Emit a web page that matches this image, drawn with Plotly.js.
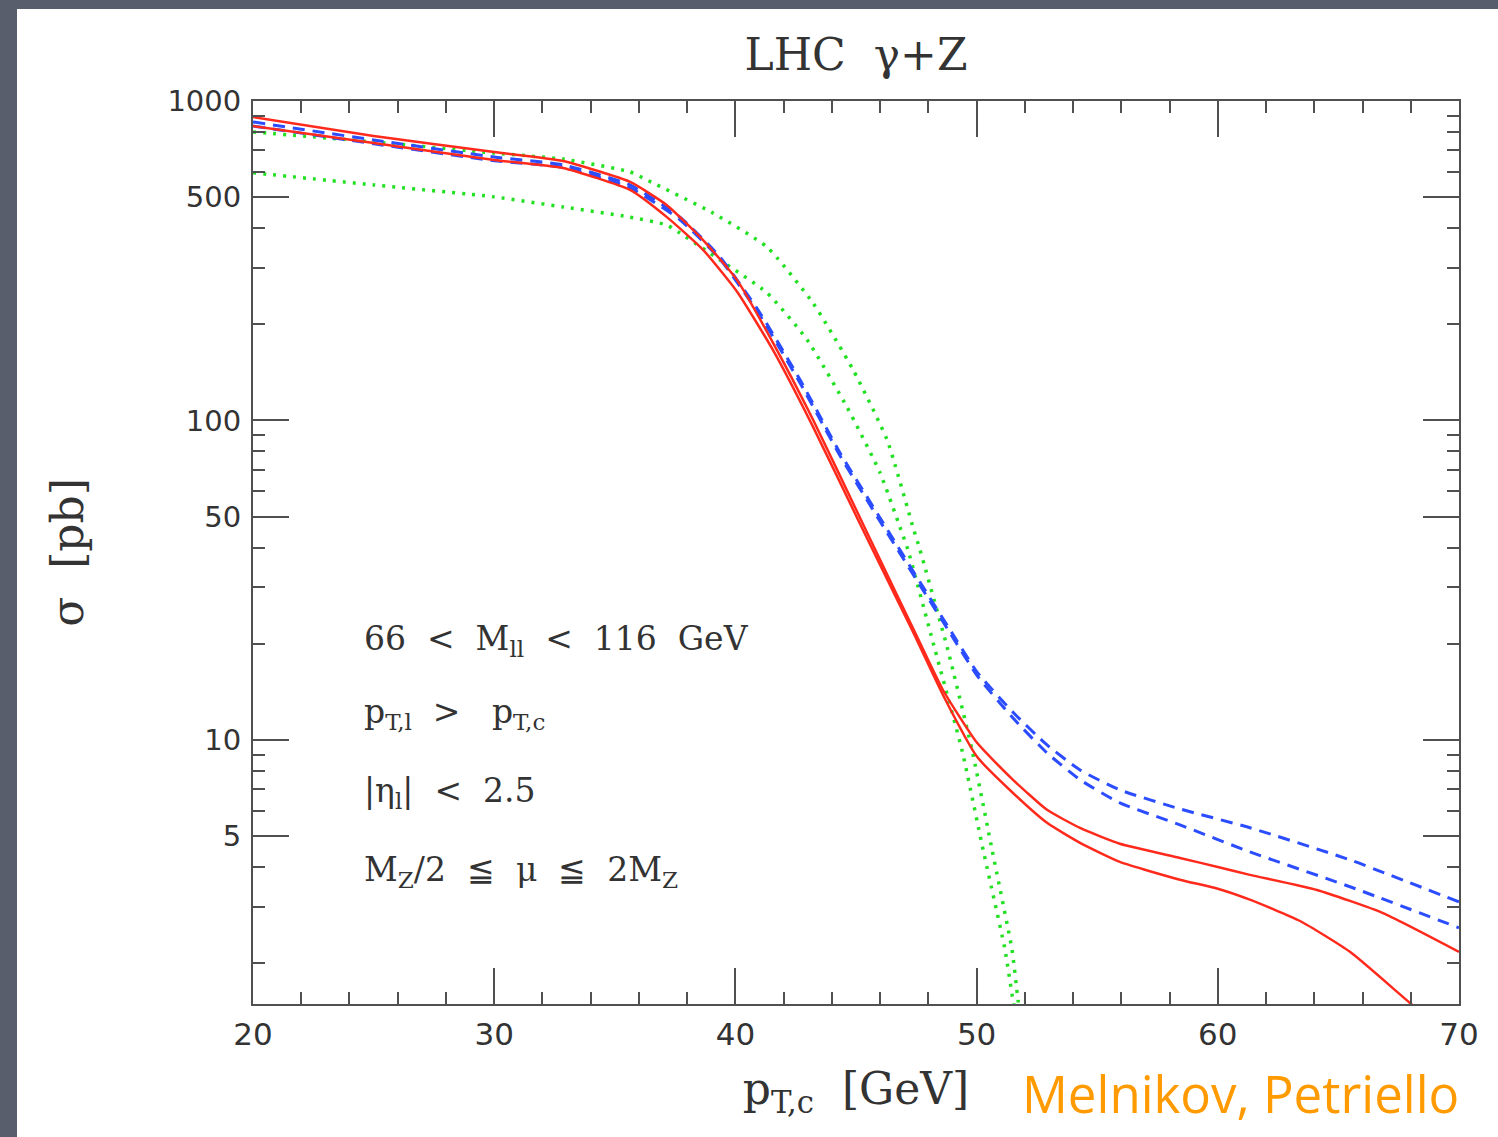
<!DOCTYPE html>
<html>
<head>
<meta charset="utf-8">
<script src="https://cdn.plot.ly/plotly-3.0.1.min.js"></script>
<style>
  html, body { margin: 0; padding: 0; width: 1498px; height: 1137px; background: #585e6b; overflow: hidden; }
  #chart { position: absolute; left: 17px; top: 9px; width: 1481px; height: 1128px; background: #ffffff; }
</style>
</head>
<body>
<div id="chart"></div>
<script>
// --- data (pT,c in GeV, sigma in pb) ---
const redA_x = [20, 25, 30, 32.85, 35.63, 37.16, 38.66, 40.07, 41.56, 43.22, 45.17, 46.0, 47.36, 48.61, 50.02, 51.51, 52.92, 54.29, 55.94, 58.43, 60.0, 61.33, 64.11, 66.85, 70];
const redA_y = [891, 777, 692, 649, 558, 472, 367, 275, 175, 100.5, 49.5, 36.6, 22.4, 14.3, 9.79, 7.50, 6.04, 5.30, 4.73, 4.27, 4.00, 3.78, 3.39, 2.87, 2.17];

const redB_x = [20, 25, 30, 32.85, 35.63, 37.16, 38.66, 40.07, 41.56, 43.22, 45.17, 46.0, 47.36, 48.61, 50.02, 51.51, 52.92, 54.29, 55.94, 58.43, 60.0, 61.33, 63.41, 65.48, 67.97, 70];
const redB_y = [835, 739, 654, 617, 527, 433, 342, 253, 166, 95.5, 47.4, 35.3, 21.8, 13.8, 8.85, 6.82, 5.50, 4.76, 4.15, 3.65, 3.42, 3.16, 2.71, 2.17, 1.50, 1.12];

const blueA_x = [20, 25, 30, 32.85, 35.63, 37.70, 39.36, 41.02, 42.68, 44.34, 46.0, 47.65, 48.90, 50.02, 51.51, 52.92, 54.29, 55.94, 58.43, 61.33, 65.48, 70];
const blueA_y = [860, 755, 668, 631, 546, 433, 325, 217, 134, 79.1, 49.5, 31.2, 22.1, 16.3, 12.2, 9.64, 8.05, 6.97, 6.08, 5.31, 4.21, 3.11];

const blueB_x = [20, 25, 30, 32.85, 35.63, 37.70, 39.36, 41.02, 42.68, 44.34, 46.0, 47.65, 48.90, 50.02, 51.51, 52.92, 54.29, 55.94, 58.43, 61.33, 65.48, 70];
const blueB_y = [835, 735, 650, 620, 535, 425, 320, 213, 131, 77.5, 48.3, 30.5, 21.6, 15.9, 11.7, 9.10, 7.50, 6.35, 5.42, 4.46, 3.47, 2.58];

const greenA_x = [20, 25, 30, 32.85, 35.63, 36.33, 39.07, 41.31, 43.22, 44.88, 46.29, 47.36, 47.65, 48.81, 49.81, 50.64, 51.47, 51.72, 52.2];
const greenA_y = [800, 745, 687, 658, 600, 566, 446, 349, 233, 144, 86.9, 46.4, 39.4, 19.1, 9.31, 4.53, 2.20, 1.53, 0.9];

const greenB_x = [20, 25, 30, 32.85, 35.63, 37.16, 37.70, 39.36, 41.31, 42.97, 44.63, 46.0, 46.82, 47.15, 48.28, 49.39, 50.27, 51.18, 51.51, 52.0];
const greenB_y = [596, 546, 501, 466, 433, 409, 386, 318, 251, 179, 110, 68.5, 46.4, 39.4, 19.1, 9.31, 4.53, 2.20, 1.53, 1.0];

const xTickVals = [20, 30, 40, 50, 60, 70];
const xMinorVals = [22, 24, 26, 28, 32, 34, 36, 38, 42, 44, 46, 48, 52, 54, 56, 58, 62, 64, 66, 68];
const yTickVals = [5, 10, 50, 100, 500, 1000];
const yTickText = ["5", "10", "50", "100", "500", "1000"];
const yMinorVals = [2, 3, 4, 6, 7, 8, 9, 20, 30, 40, 60, 70, 80, 90, 200, 300, 400, 600, 700, 800, 900];

const RED = '#ff2a1c', BLUE = '#2b4dff', GREEN = '#22e022';
const AX = '#505050';

function tr(x, y, color, width, dash) {
  return { x: x, y: y, type: 'scatter', mode: 'lines', hoverinfo: 'skip',
           line: { color: color, width: width, dash: dash, shape: 'spline', smoothing: 0.5 } };
}

const data = [
  tr(greenA_x, greenA_y, GREEN, 3.5, '3px,7px'),
  tr(greenB_x, greenB_y, GREEN, 3.5, '3px,7px'),
  tr(blueA_x, blueA_y, BLUE, 3, '12px,8px'),
  tr(blueB_x, blueB_y, BLUE, 3, '12px,8px'),
  tr(redA_x, redA_y, RED, 2.5, 'solid'),
  tr(redB_x, redB_y, RED, 2.5, 'solid')
];

const serif = 'DejaVu Serif';
const txt = '#333333';
const S = '\u00a0';

const layout = {
  width: 1481, height: 1128,
  margin: { l: 236, r: 39, t: 92, b: 133, pad: 0 },
  paper_bgcolor: '#ffffff', plot_bgcolor: '#ffffff',
  showlegend: false,
  title: { text: 'LHC' + S + S + 'γ+Z', font: { family: serif, size: 44, color: txt },
           x: 0.5, xref: 'paper', xanchor: 'center', y: 0.9592, yref: 'container', yanchor: 'middle' },
  xaxis: {
    range: [20, 70], showgrid: false, zeroline: false,
    showline: true, linecolor: AX, linewidth: 2, mirror: 'allticks',
    tickmode: 'array', tickvals: xTickVals,
    ticks: 'inside', ticklen: 36, tickwidth: 2, tickcolor: AX,
    tickfont: { family: 'DejaVu Sans', size: 31, color: txt },
    ticklabelstandoff: 2,
    minor: { tickmode: 'array', tickvals: xMinorVals, ticks: 'inside', ticklen: 12, tickwidth: 2, tickcolor: AX, showgrid: false },
    title: { text: 'p<sub>T,c</sub>' + S + S + '[GeV]', font: { family: serif, size: 44, color: txt }, standoff: 22 }
  },
  yaxis: {
    type: 'log', range: [Math.log10(1.49), 3], showgrid: false, zeroline: false,
    showline: true, linecolor: AX, linewidth: 2, mirror: 'allticks',
    tickmode: 'array', tickvals: yTickVals, ticktext: yTickText,
    ticks: 'inside', ticklen: 36, tickwidth: 2, tickcolor: AX,
    tickfont: { family: 'DejaVu Sans', size: 29, color: txt },
    ticklabelstandoff: 4,
    minor: { tickmode: 'array', tickvals: yMinorVals, ticks: 'inside', ticklen: 12, tickwidth: 2, tickcolor: AX, showgrid: false },
    title: { text: 'σ' + S + S + '[pb]', font: { family: serif, size: 44, color: txt }, standoff: 70 }
  },
  annotations: [
    { text: '66' + S + S + '&lt;' + S + S + 'M<sub>ll</sub>' + S + S + '&lt;' + S + S + '116' + S + S + 'GeV', xref: 'paper', yref: 'paper', x: 0.0904, y: 0.403, xanchor: 'left', yanchor: 'middle', showarrow: false, font: { family: serif, size: 33, color: txt } },
    { text: 'p<sub>T,l</sub>' + S + S + '&gt;' + S + S + S + 'p<sub>T,c</sub>', xref: 'paper', yref: 'paper', x: 0.0904, y: 0.322, xanchor: 'left', yanchor: 'middle', showarrow: false, font: { family: serif, size: 33, color: txt } },
    { text: '|η<sub>l</sub>|' + S + S + '&lt;' + S + S + '2.5', xref: 'paper', yref: 'paper', x: 0.0904, y: 0.234, xanchor: 'left', yanchor: 'middle', showarrow: false, font: { family: serif, size: 33, color: txt } },
    { text: 'M<sub>Z</sub>/2' + S + S + '≦' + S + S + 'μ' + S + S + '≦' + S + S + '2M<sub>Z</sub>', xref: 'paper', yref: 'paper', x: 0.0904, y: 0.147, xanchor: 'left', yanchor: 'middle', showarrow: false, font: { family: serif, size: 33, color: txt } },
    { text: 'Melnikov, Petriello', xref: 'paper', yref: 'paper', x: 1.002, y: -0.0986, xanchor: 'right', yanchor: 'middle', showarrow: false, font: { family: 'Open Sans', size: 51, color: '#ff9a00' } }
  ]
};

Plotly.newPlot('chart', data, layout, { staticPlot: true, displayModeBar: false });
</script>
</body>
</html>
